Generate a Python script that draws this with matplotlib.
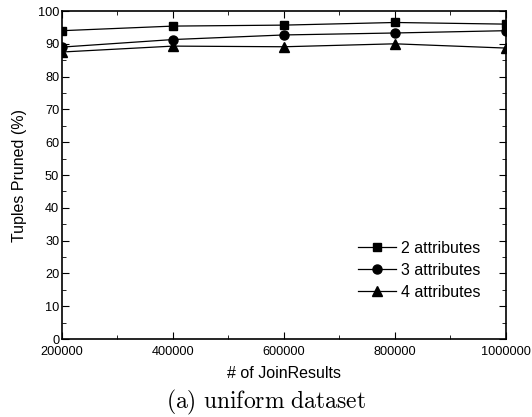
import matplotlib
matplotlib.use("Agg")
import matplotlib.pyplot as plt
from matplotlib.ticker import MultipleLocator, StrMethodFormatter

plt.rcParams['font.family'] = ['Liberation Sans', 'DejaVu Sans']
plt.rcParams['mathtext.fontset'] = 'cm'

join_results = [200000, 400000, 600000, 800000, 1000000]
pruned_2 = [94.0, 95.4, 95.7, 96.5, 96.0]
pruned_3 = [89.0, 91.3, 92.7, 93.3, 94.0]
pruned_4 = [87.5, 89.3, 89.1, 90.0, 88.7]
series_labels = ['2 attributes', '3 attributes', '4 attributes']

fig = plt.figure(figsize=(5.32, 4.17), dpi=100)
ax = fig.add_axes([0.1165, 0.187, 0.8345, 0.7866])

for vals, mk, ms, lab in zip([pruned_2, pruned_3, pruned_4], ['s', 'o', '^'], [5.5, 6.5, 6.5], series_labels):
    ax.plot(join_results, vals, color='black', marker=mk, markersize=ms, lw=0.9, label=lab)

ax.set_xlim(200000, 1000000)
ax.set_ylim(0, 100)
ax.xaxis.set_major_locator(MultipleLocator(200000))
ax.xaxis.set_minor_locator(MultipleLocator(100000))
ax.xaxis.set_major_formatter(StrMethodFormatter('{x:.0f}'))
ax.yaxis.set_major_locator(MultipleLocator(10))
ax.yaxis.set_minor_locator(MultipleLocator(5))
ax.tick_params(which='both', direction='in', top=True, right=True, labelsize=9.2)
ax.tick_params(which='major', length=5)
ax.tick_params(axis='x', which='major', pad=5)
ax.tick_params(axis='y', which='major', pad=2)
ax.tick_params(which='minor', length=3)
for s in ax.spines.values():
    s.set_linewidth(1.2)

ax.set_ylabel('Tuples Pruned (%)', fontsize=11.5, labelpad=8)
ax.set_xlabel('# of JoinResults', fontsize=11.5, labelpad=6)

ax.legend(loc='lower right', bbox_to_anchor=(0.975, 0.075), frameon=False, fontsize=11.5,
          handlelength=2.4, handletextpad=0.3, labelspacing=0.45)

fig.text(0.5, 0.0, r'$\mathrm{(a)\ uniform\ dataset}$', ha='center', va='bottom', fontsize=17)

fig.savefig('out.png', dpi=100)
